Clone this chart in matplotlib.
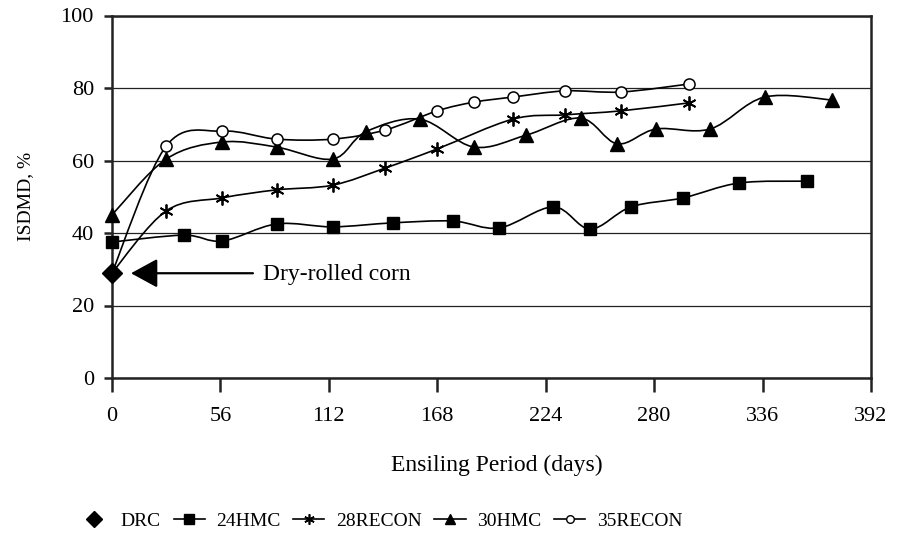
import matplotlib
matplotlib.use("Agg")
import matplotlib.pyplot as plt
import numpy as np
from matplotlib.lines import Line2D
from matplotlib.path import Path
from matplotlib.patches import PathPatch

plt.rcParams['font.family'] = ['Liberation Serif', 'DejaVu Serif']

# dry-rolled corn reference point (day 0); the RECON curves start from it
drc_day = [0]
drc = [29.0]

hmc24_day = [0, 37, 57, 85, 114, 145, 176, 200, 228, 247, 268, 295, 324, 359]
hmc24 = [37.5, 39.4, 37.8, 42.5, 41.7, 42.8, 43.3, 41.4, 47.2, 41.1, 47.2, 49.7, 53.8, 54.3]

rec28_day = [28, 57, 85, 114, 141, 168, 207, 234, 263, 298]
rec28 = [46.1, 49.7, 51.9, 53.2, 57.9, 63.2, 71.4, 72.6, 73.7, 75.9]

hmc30_day = [0, 28, 57, 85, 114, 131, 159, 187, 214, 242, 261, 281, 309, 337, 372]
hmc30 = [45.0, 60.4, 65.1, 63.7, 60.4, 67.9, 71.4, 63.7, 67.0, 71.7, 64.6, 68.7, 68.7, 77.5, 76.7]

rec35_day = [28, 57, 85, 114, 141, 168, 187, 207, 234, 263, 298]
rec35 = [64.0, 68.1, 65.9, 65.9, 68.4, 73.7, 76.1, 77.5, 79.2, 78.9, 81.1]

x_ticks = [0, 56, 112, 168, 224, 280, 336, 392]
y_ticks = [0, 20, 40, 60, 80, 100]


def smooth_path(x, y):
    # excel-style smoothed line: catmull-rom segments as cubic beziers
    pts = np.column_stack([x, y]).astype(float)
    n = len(pts)
    verts = [pts[0]]
    codes = [Path.MOVETO]
    for i in range(n - 1):
        p0 = pts[max(i - 1, 0)]; p1 = pts[i]; p2 = pts[i + 1]; p3 = pts[min(i + 2, n - 1)]
        verts += [p1 + (p2 - p0) / 6, p2 - (p3 - p1) / 6, p2]
        codes += [Path.CURVE4] * 3
    return Path(verts, codes)


fig = plt.figure(figsize=(9.01, 5.47), dpi=100)
ax = fig.add_axes([112 / 901, 1 - 378 / 547, 759 / 901, 362.5 / 547])

series = [
    (hmc24_day, hmc24, dict(marker='s', ms=8.5, mfc='black')),
    (drc_day + rec28_day, drc + rec28, dict(marker=(6, 2, 0), ms=10, mew=1.3)),
    (hmc30_day, hmc30, dict(marker='^', ms=9.5, mfc='black')),
    (drc_day + rec35_day, drc + rec35, dict(marker='o', ms=8, mfc='white', mew=1.1)),
]
for xs, ys, mk in series:
    ax.add_patch(PathPatch(smooth_path(xs, ys), fill=False, lw=1.2, ec='black', zorder=3))
    start = 1 if xs[0] == drc_day[0] and ys[0] == drc[0] else 0
    ax.plot(xs[start:], ys[start:], ls='none', color='black', clip_on=False, zorder=4, **mk)

ax.plot(drc_day, drc, ls='none', marker='D', ms=10.5, color='black', clip_on=False, zorder=5)

ax.annotate("", xy=(9.8, 28.9), xytext=(72.8, 28.9),
            arrowprops=dict(arrowstyle="-|>,head_length=1.65,head_width=0.9",
                            lw=1.6, color='black', shrinkA=0, shrinkB=0))
ax.text(78, 28.6, "Dry-rolled corn", fontsize=17, va='center', ha='left')

ax.set_xlim(0, 392)
ax.set_ylim(0, 100)
ax.set_xticks(x_ticks)
ax.set_yticks(y_ticks)
ax.yaxis.grid(True, color='#222222', lw=0.9)
ax.set_axisbelow(True)
for s in ax.spines.values():
    s.set_linewidth(1.8)
    s.set_color('#222222')
ax.tick_params(axis='x', direction='out', length=10, width=1.8, pad=11, labelsize=16, color='#222222')
ax.tick_params(axis='y', direction='out', length=6, width=1.8, pad=7, labelsize=16, color='#222222')

ax.set_xlabel("Ensiling Period (days)", fontsize=17)
ax.xaxis.set_label_coords(0.507, -0.212)
ax.set_ylabel("ISDMD, %", fontsize=14)
ax.yaxis.set_label_coords(-0.102, 0.5)

handles = [
    Line2D([], [], ls='none', marker='D', ms=8, color='black'),
    Line2D([], [], color='black', lw=1.2, marker='s', ms=6.5),
    Line2D([], [], color='black', lw=1.2, marker=(6, 2, 0), ms=7.5, mew=1.2),
    Line2D([], [], color='black', lw=1.2, marker='^', ms=7),
    Line2D([], [], color='black', lw=1.2, marker='o', ms=5.5, mfc='white'),
]
labels = ["DRC", "24HMC", "28RECON", "30HMC", "35RECON"]
fig.legend(handles, labels, loc='center', bbox_to_anchor=(0.422, 0.047), ncol=5,
           frameon=False, fontsize=14, handlelength=1.6, handletextpad=0.6,
           columnspacing=0.65, borderpad=0, borderaxespad=0)

fig.savefig("out.png", dpi=100)
